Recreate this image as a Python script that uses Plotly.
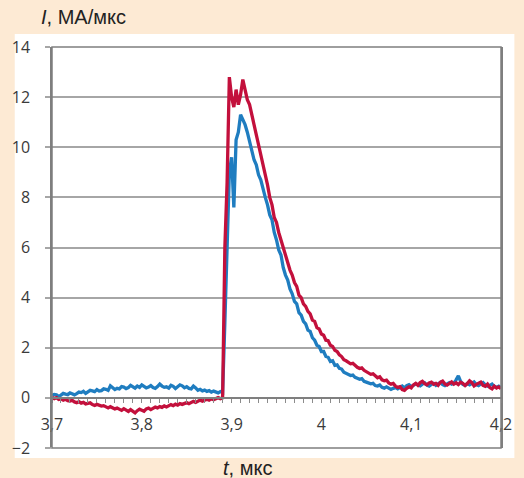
import numpy as np
import plotly.graph_objects as go

# ---- data ----
T_START = 3.7
T_STEP = 0.0025

blue_pre = [0.10, 0.14, 0.12, 0.06, 0.11, 0.18, 0.15, 0.13, 0.20, 0.16, 0.12, 0.17, 0.23, 0.21, 0.26,
            0.18, 0.24, 0.30, 0.28, 0.25, 0.33, 0.27, 0.29, 0.36, 0.34, 0.30, 0.48, 0.40, 0.33, 0.38,
            0.36, 0.45, 0.43, 0.37, 0.41, 0.50, 0.44, 0.39, 0.47, 0.42, 0.52, 0.46, 0.40, 0.43, 0.49,
            0.41, 0.38, 0.45, 0.55, 0.47, 0.42, 0.44, 0.39, 0.50, 0.46, 0.37, 0.43, 0.52, 0.48, 0.40,
            0.45, 0.38, 0.36, 0.47, 0.40, 0.30, 0.34, 0.28, 0.31, 0.26, 0.29, 0.23, 0.27, 0.24, 0.20,
            0.25, 0.21]
blue_peak = [3.0, 6.5, 9.0, 9.6, 7.6, 10.3, 10.6, 11.3, 11.1, 10.9, 10.6, 10.2, 9.9, 9.5, 9.3, 8.9,
             8.7, 8.3, 8.0, 7.7, 7.3, 7.1, 6.6, 6.3, 5.9, 5.7, 5.2, 4.9, 4.7, 4.35, 4.15, 3.85, 3.75,
             3.4, 3.3, 3.05, 2.95, 2.7, 2.65, 2.4, 2.3, 2.1, 2.05, 1.85, 1.85, 1.65, 1.62, 1.45, 1.48,
             1.3, 1.32, 1.18, 1.15, 1.02]
blue_tail = [0.97, 0.93, 0.89, 0.91, 0.82, 0.78, 0.74, 0.77, 0.66, 0.63,
             0.60, 0.56, 0.58, 0.49, 0.47, 0.51, 0.42, 0.39, 0.44, 0.37,
             0.34, 0.38, 0.41, 0.36, 0.43, 0.47, 0.40, 0.49, 0.53, 0.45,
             0.50, 0.56, 0.52, 0.48, 0.55, 0.60, 0.51, 0.47, 0.54, 0.58,
             0.50, 0.57, 0.62, 0.53, 0.49, 0.56, 0.61, 0.55, 0.59, 0.72,
             0.88, 0.66, 0.54, 0.50, 0.57, 0.52, 0.60, 0.64, 0.53, 0.49,
             0.56, 0.61, 0.52, 0.47, 0.50, 0.55, 0.45, 0.42, 0.47, 0.40]

red_pre = [0.02, -0.03, 0.01, -0.06, -0.04, -0.09, -0.05, -0.11, -0.13, -0.10, -0.16, -0.19, -0.15,
           -0.21, -0.18, -0.24, -0.22, -0.20, -0.27, -0.30, -0.26, -0.29, -0.33, -0.31, -0.36, -0.40,
           -0.35, -0.38, -0.44, -0.41, -0.46, -0.50, -0.43, -0.48, -0.54, -0.47, -0.52, -0.60, -0.51,
           -0.45, -0.49, -0.53, -0.44, -0.41, -0.47, -0.42, -0.37, -0.40, -0.35, -0.38, -0.32, -0.36,
           -0.30, -0.27, -0.31, -0.25, -0.29, -0.23, -0.26, -0.21, -0.19, -0.23, -0.17, -0.14, -0.18,
           -0.12, -0.09, -0.13, -0.08, -0.05, -0.09, -0.04, -0.07, -0.02, 0.01, -0.03, 0.00]
red_peak = [6.0, 8.6, 12.8, 12.0, 11.6, 12.3, 11.7, 12.1, 12.7, 12.3, 11.9, 11.7, 11.3, 10.9, 10.6,
            10.1, 9.8, 9.3, 8.9, 8.5, 8.0, 7.7, 7.2, 7.0, 6.6, 6.3, 6.0, 5.6, 5.4, 5.1, 4.9, 4.6, 4.45,
            4.1, 4.0, 3.75, 3.65, 3.45, 3.35, 3.1, 3.05, 2.8, 2.75, 2.55, 2.5, 2.3, 2.28, 2.1, 2.05,
            1.9, 1.85, 1.72, 1.65, 1.52]
red_tail = [1.48, 1.42, 1.36, 1.38, 1.29, 1.22, 1.17, 1.20, 1.10, 1.04,
            0.99, 0.94, 0.96, 0.86, 0.80, 0.84, 0.72, 0.68, 0.71, 0.60,
            0.55, 0.58, 0.47, 0.42, 0.45, 0.33, 0.30, 0.38, 0.44, 0.40,
            0.52, 0.58, 0.50, 0.61, 0.66, 0.57, 0.52, 0.60, 0.63, 0.54,
            0.58, 0.50, 0.62, 0.67, 0.56, 0.51, 0.59, 0.64, 0.55, 0.60,
            0.53, 0.62, 0.58, 0.49, 0.57, 0.68, 0.61, 0.48, 0.54, 0.59,
            0.63, 0.50, 0.46, 0.55, 0.41, 0.36, 0.47, 0.39, 0.44, 0.37]

x_tick_vals = [3.7, 3.8, 3.9, 4.0, 4.1, 4.2]
x_tick_text = ["3,7", "3,8", "3,9", "4", "4,1", "4,2"]
y_tick_vals = [-2, 0, 2, 4, 6, 8, 10, 12, 14]

blue = blue_pre + blue_peak + blue_tail
red = red_pre + red_peak + red_tail
t = np.round(T_START + T_STEP * np.arange(len(blue)), 5)

# ---- figure ----
W, H = 524, 478
ML, MR, MT, MB = 42, 12, 47, 30
pw, ph = W - ML - MR, H - MT - MB

def px(xp):
    return (xp - ML) / pw

def py(yp):
    return (H - MB - yp) / ph

PEACH = "#FDEAD4"
BLUE = "#1F7DC0"
RED = "#C3103C"
GRID = "#A6A6A6"
AXIS = "#7F7F7F"

fig = go.Figure()
fig.add_trace(go.Scatter(x=t, y=blue, mode="lines", line=dict(color=BLUE, width=3.3), showlegend=False))
fig.add_trace(go.Scatter(x=t, y=red, mode="lines", line=dict(color=RED, width=3.3), showlegend=False))

fig.add_shape(type="rect", xref="paper", yref="paper", x0=px(3), x1=px(526), y0=py(458), y1=py(34),
              fillcolor="white", line=dict(width=0), layer="below")
# plot-area frame (bottom border at y = -2, right border at x = 4.2)
fig.add_shape(type="rect", xref="paper", yref="paper", x0=0, x1=1, y0=0, y1=1,
              fillcolor="rgba(0,0,0,0)", line=dict(color=AXIS, width=1.5), layer="above")
fig.add_shape(type="line", xref="paper", yref="paper", x0=px(37), x1=0, y0=0, y1=0,
              line=dict(color=GRID, width=1.5), layer="above")

fig.add_annotation(xref="paper", yref="paper", x=px(28), y=py(17), xanchor="left", yanchor="middle",
                   text="<i>I</i>, МА/мкс", showarrow=False,
                   font=dict(family="Liberation Sans", size=20, color="#222222"))
fig.add_annotation(xref="paper", yref="paper", x=px(247), y=py(468), xanchor="center", yanchor="middle",
                   text="<i>t</i>, мкс", showarrow=False,
                   font=dict(family="Liberation Sans", size=20, color="#222222"))

tickfont = dict(family="Open Sans", size=16, color="#3A3A3A")

fig.update_layout(
    width=W, height=H,
    margin=dict(l=ML, r=MR, t=MT, b=MB),
    paper_bgcolor=PEACH, plot_bgcolor="white",
    xaxis=dict(range=[3.7, 4.2], tickvals=x_tick_vals, ticktext=x_tick_text,
               showgrid=False, zeroline=False, showline=True, linecolor=AXIS, linewidth=1.5,
               anchor="free", position=py(398),
               ticks="outside", ticklen=4, tickcolor="#8C8C8C", tickwidth=1,
               minor=dict(dtick=0.01, tick0=3.7, ticks="outside", ticklen=4, tickcolor="#8C8C8C", tickwidth=1),
               tickfont=tickfont, ticklabelstandoff=8),
    yaxis=dict(range=[-2, 14], tickvals=y_tick_vals, showgrid=True, gridcolor=GRID, gridwidth=1.5,
               zeroline=False, showline=True, mirror=True, linecolor=AXIS, linewidth=1.5,
               ticks="outside", ticklen=5, tickcolor=GRID, tickwidth=1.5,
               tickfont=tickfont, ticklabelstandoff=12),
)

fig.write_html("out.html")
